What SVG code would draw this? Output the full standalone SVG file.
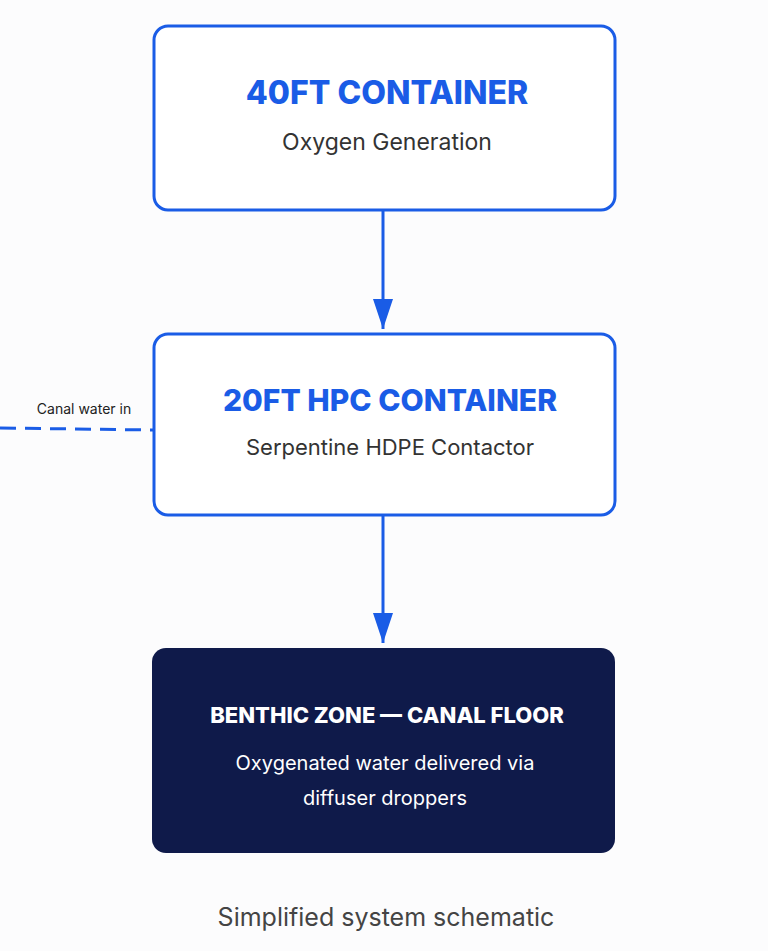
<svg xmlns="http://www.w3.org/2000/svg" width="768" height="951" viewBox="0 0 768 951">
<style>
.box{fill:#fff;stroke:#1a5ce6;stroke-width:3}
.t{font-family:Inter,"Liberation Sans",sans-serif;font-weight:800;fill:#1a5ce6;text-anchor:middle}
.s{font-family:Inter,"Liberation Sans",sans-serif;fill:#333;text-anchor:middle}
.c{stroke:#1a5ce6;stroke-width:3;fill:none}
</style>
<defs><marker id="ah" viewBox="0 0 10 10" refX="10" refY="5" markerWidth="10" markerHeight="7" markerUnits="userSpaceOnUse" orient="auto"><path d="M0,0L10,5L0,10z" fill="#1a5ce6"/></marker>
<marker id="a" viewBox="0 0 30 20" refX="30" refY="10" markerWidth="30" markerHeight="20" markerUnits="userSpaceOnUse" orient="auto"><path d="M0,0L30,10L0,20z" fill="#1a5ce6"/></marker></defs>
<rect width="768" height="951" fill="#fcfcfd"/>
<g id="connectors">
<line class="c" x1="383" y1="210" x2="383" y2="329" marker-end="url(#a)"/>
<line class="c" x1="383" y1="515" x2="383" y2="643" marker-end="url(#a)"/>
<line class="c" x1="0" y1="428" x2="153" y2="430" stroke-dasharray="16,9"/>
<text x="84" y="414" font-family="Inter,'Liberation Sans',sans-serif" font-size="14" fill="#222" text-anchor="middle">Canal water in</text>
</g>
<g id="n1"><rect class="box" x="154" y="26" width="461" height="184" rx="14"/>
<text class="t" x="387" y="104" font-size="32">40FT CONTAINER</text>
<text class="s" x="387" y="150" font-size="23">Oxygen Generation</text></g>
<g id="n2"><rect class="box" x="154" y="334" width="461" height="181" rx="14"/>
<text class="t" x="390" y="411" font-size="30">20FT HPC CONTAINER</text>
<text class="s" x="390" y="455" font-size="22">Serpentine HDPE Contactor</text></g>
<g id="n3"><rect x="152" y="648" width="463" height="205" rx="14" fill="#0f1a4a"/>
<text x="387" y="723" font-family="Inter,'Liberation Sans',sans-serif" font-weight="800" font-size="22" fill="#fff" text-anchor="middle">BENTHIC ZONE — CANAL FLOOR</text>
<text x="385" y="770" font-family="Inter,'Liberation Sans',sans-serif" font-size="20" fill="#fff" text-anchor="middle">Oxygenated water delivered via</text>
<text x="385" y="805" font-family="Inter,'Liberation Sans',sans-serif" font-size="20" fill="#fff" text-anchor="middle">diffuser droppers</text></g>
<text x="386" y="926" font-family="Inter,'Liberation Sans',sans-serif" font-size="25" fill="#444" text-anchor="middle">Simplified system schematic</text>
</svg>
